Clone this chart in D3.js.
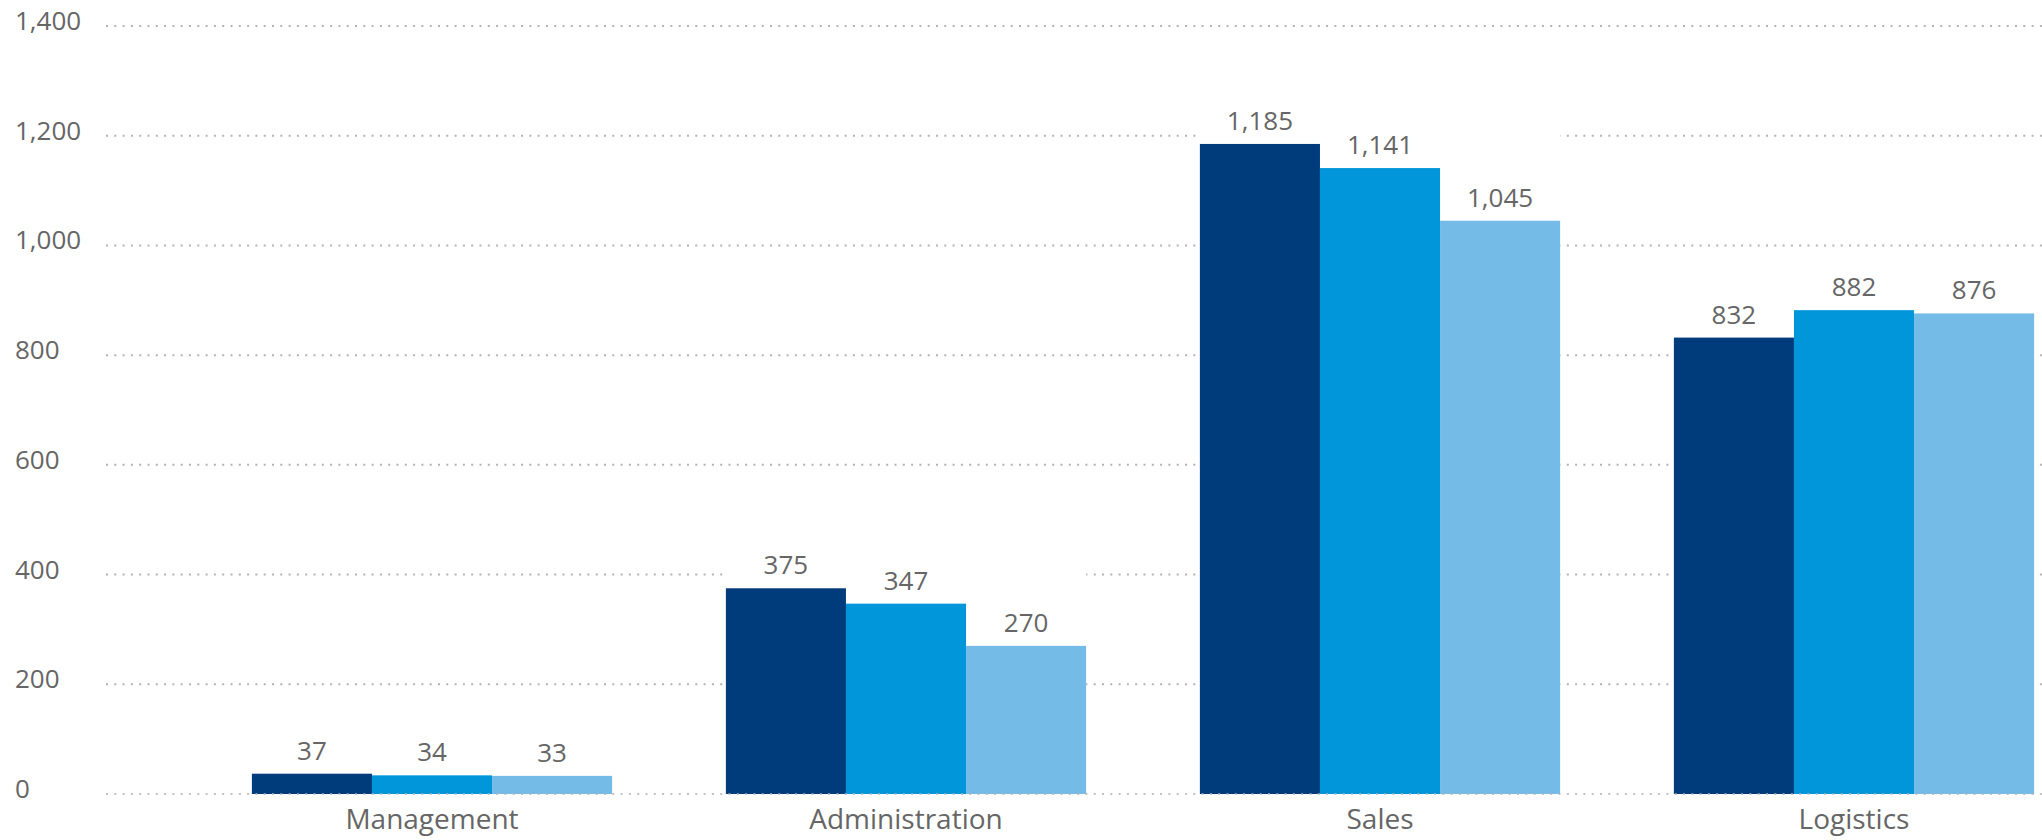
<!DOCTYPE html>
<html>
<head>
<meta charset="utf-8">
<script src="https://cdn.jsdelivr.net/npm/d3@7"></script>
<style>
  body { margin: 0; background: #fff; }
  text { fill: #666666; }
</style>
</head>
<body>
<div id="chart"></div>
<script>
// chart data
var categories = ["Management", "Administration", "Sales", "Logistics"];
var seriesNames = ["s1", "s2", "s3"];
var series1 = [37, 375, 1185, 832];
var series2 = [34, 347, 1141, 882];
var series3 = [33, 270, 1045, 876];
var yTicks = [0, 200, 400, 600, 800, 1000, 1200, 1400];

var colors = ["#003c7b", "#0096d9", "#74bbe7"];

var width = 2042;
var height = 840;

var rows = categories.map(function (c, i) {
    return { cat: c, values: [series1[i], series2[i], series3[i]] };
});

var svg = d3.select("#chart").append("svg")
    .attr("width", width)
    .attr("height", height);

var y = d3.scaleLinear().domain([0, 1400]).range([794, 26]);

// band scale runs past the right edge, like the original
var x = d3.scaleBand()
    .domain(categories)
    .range([195, 2091])
    .paddingInner(0.24)
    .paddingOuter(0.12);

var x1 = d3.scaleBand()
    .domain(seriesNames)
    .range([0, x.bandwidth()]);

var fmt = d3.format(",");

// dotted gridlines
var gridLeft = 106;
svg.append("g")
    .selectAll("line")
    .data(yTicks.filter(function (d) { return d > 0; }))
    .enter().append("line")
    .attr("x1", gridLeft)
    .attr("x2", width)
    .attr("y1", function (d) { return y(d); })
    .attr("y2", function (d) { return y(d); })
    .attr("stroke", "#b3b3b3")
    .attr("stroke-width", 2)
    .attr("stroke-dasharray", "2 6.3");

// y labels
svg.append("g")
    .selectAll("text")
    .data(yTicks)
    .enter().append("text")
    .attr("x", 15)
    .attr("y", function (d) { return y(d) + 4; })
    .style("font-family", "'Open Sans', sans-serif")
    .style("font-size", "26px")
    .text(function (d) { return fmt(d); });

var groups = svg.append("g")
    .selectAll("g")
    .data(rows)
    .enter().append("g")
    .attr("transform", function (d) { return "translate(" + x(d.cat) + ",0)"; });

// the original hides the gridline just above the tallest bar of a group
groups.append("rect")
    .attr("x", 0)
    .attr("width", x.bandwidth())
    .attr("y", function (d) { return y(d3.max(d.values)) - 16; })
    .attr("height", function (d) { return y(0) - y(d3.max(d.values)) + 16; })
    .attr("fill", "#fff");

groups.selectAll(".bar")
    .data(function (d) { return d.values; })
    .enter().append("rect")
    .attr("class", "bar")
    .attr("x", function (d, i) { return x1(seriesNames[i]); })
    .attr("width", x1.bandwidth())
    .attr("y", function (d) { return y(d); })
    .attr("height", function (d) { return y(0) - y(d); })
    .attr("fill", function (d, i) { return colors[i]; });

groups.selectAll(".val")
    .data(function (d) { return d.values; })
    .enter().append("text")
    .attr("class", "val")
    .attr("x", function (d, i) { return x1(seriesNames[i]) + x1.bandwidth() / 2; })
    .attr("y", function (d) { return y(d) - 14; })
    .attr("text-anchor", "middle")
    .style("font-family", "'Open Sans', sans-serif")
    .style("font-size", "26px")
    .text(function (d) { return fmt(d); });

// zero line sits over the bars
svg.append("line")
    .attr("x1", gridLeft)
    .attr("x2", width)
    .attr("y1", y(0))
    .attr("y2", y(0))
    .attr("stroke", "#b3b3b3")
    .attr("stroke-width", 2)
    .attr("stroke-dasharray", "2 6.3")
    .attr("opacity", 0.8);

// category labels
svg.append("g")
    .selectAll("text")
    .data(categories)
    .enter().append("text")
    .attr("x", function (d) { return x(d) + x.bandwidth() / 2; })
    .attr("y", 829)
    .attr("text-anchor", "middle")
    .style("font-family", "'Open Sans', sans-serif")
    .style("font-size", "28px")
    .text(function (d) { return d; });
</script>
</body>
</html>
